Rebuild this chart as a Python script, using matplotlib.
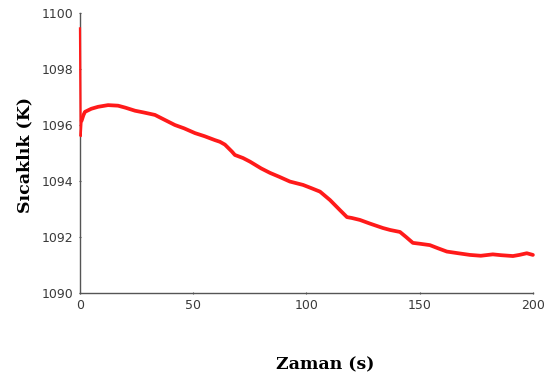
import matplotlib
matplotlib.use("Agg")
import matplotlib.pyplot as plt

# time (s) and temperature (K)
zaman = [0, 0.3, 0.7, 1.5, 2.2, 5, 8, 12.4, 16.8, 20, 24.3, 28, 33.1, 37, 41.9, 46,
         50.8, 55, 59.6, 61.8, 64, 67.1, 68.4, 72, 75.1, 80, 83.9, 88, 92.7, 98.5,
         102, 106, 110.4, 114.8, 117.9, 120, 123.6, 128, 133.8, 137, 141.3, 144,
         147, 150, 154.5, 158, 162, 167, 172.2, 177, 182.3, 186, 191.2, 194,
         197.3, 200]
sicaklik = [1099.45, 1095.6, 1096.15, 1096.35, 1096.47, 1096.58, 1096.65, 1096.71,
            1096.69, 1096.62, 1096.51, 1096.45, 1096.36, 1096.2, 1096.0, 1095.88,
            1095.71, 1095.6, 1095.46, 1095.4, 1095.3, 1095.05, 1094.93, 1094.82,
            1094.69, 1094.45, 1094.29, 1094.15, 1093.98, 1093.86, 1093.75, 1093.62,
            1093.32, 1092.96, 1092.71, 1092.68, 1092.61, 1092.48, 1092.32, 1092.25,
            1092.18, 1092.0, 1091.79, 1091.76, 1091.71, 1091.6, 1091.48, 1091.42,
            1091.36, 1091.33, 1091.38, 1091.35, 1091.32, 1091.36, 1091.42, 1091.36]

xticks = [0, 50, 100, 150, 200]
yticks = [1090, 1092, 1094, 1096, 1098, 1100]

fig = plt.figure(figsize=(5.46, 3.87), dpi=100)
ax = fig.add_axes([0.1465, 0.2429, 0.8295, 0.7235])

# initial spike is drawn thinner, on top of the spine
ax.plot(zaman[:3], sicaklik[:3], color="#ff1a1a", lw=1.6, clip_on=False, zorder=4)
ax.plot(zaman[2:], sicaklik[2:], color="#ff1a1a", lw=2.7, solid_joinstyle="round",
        solid_capstyle="round", clip_on=False, zorder=4)

ax.set_xlim(0, 200)
ax.set_ylim(1090, 1100)
ax.set_xticks(xticks)
ax.set_yticks(yticks)
ax.tick_params(labelsize=9, colors="#555555", labelcolor="#3a3a3a",
               length=2, direction="inout")
for s in ["top", "right"]:
    ax.spines[s].set_visible(False)
for s in ["left", "bottom"]:
    ax.spines[s].set_color("#555555")
    ax.spines[s].set_linewidth(1.0)

fig.text(0.046, 0.60, "Sıcaklık (K)", rotation=90, ha="center", va="center",
         family="DejaVu Serif", fontweight="bold", fontsize=12.5)
fig.text(0.595, 0.057, "Zaman (s)", ha="center", va="center",
         family="DejaVu Serif", fontweight="bold", fontsize=12.5)

fig.savefig("out.png", dpi=100)
